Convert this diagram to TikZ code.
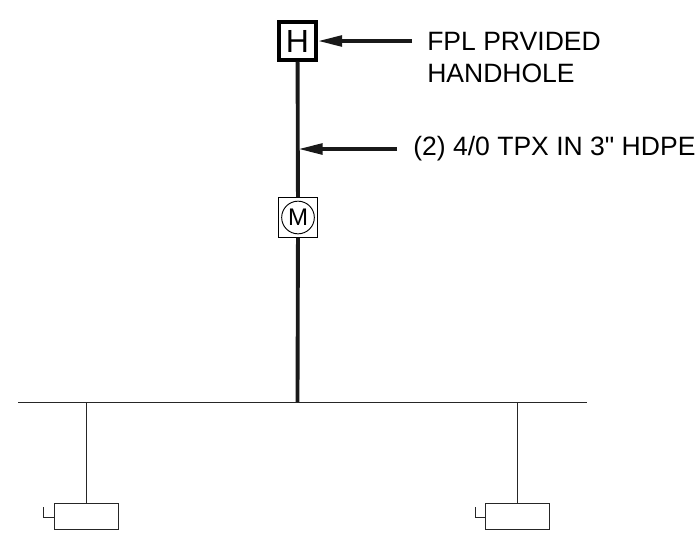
\documentclass[tikz,border=0pt]{standalone}
\usepackage{fontspec}
\setmainfont[Ligatures=TeXOff]{Liberation Sans}
\usetikzlibrary{arrows.meta}
\tikzset{
	thin line/.style={line width=0.75pt,color=black!85},
	feeder/.style={line width=2.9pt,color=black!90},
	leader/.style={line width=2.6pt,color=black!90,-{Triangle[length=18pt,width=8pt]}},
	lbl/.style={font=\fontsize{19.9pt}{22pt}\selectfont,anchor=base west,inner sep=0pt},
	load/.style={draw,thin line,rectangle,minimum width=48pt,minimum height=19.5pt,inner sep=0pt}
}
\begin{document}
\begin{tikzpicture}[x=0.75pt,y=-0.75pt]
			\useasboundingbox (0,0) rectangle (698,537);
			\node[draw,rectangle,line width=2.8pt,minimum size=28pt,inner sep=0pt,font=\fontsize{24pt}{26pt}\selectfont] (hh) at (297.5,41){H};
			\node[draw,rectangle,line width=0.6pt,minimum size=29.5pt,inner sep=0pt] (mbox) at (298,217.5){};
			\node[draw,circle,line width=0.7pt,minimum size=24.5pt,inner sep=0pt,font=\fontsize{18pt}{18pt}\selectfont] (mtr) at (298,217.5){M};
			\coordinate (busl) at (18,402);
			\coordinate (busr) at (587,402);
			\coordinate (tap) at (297.5,402);
			\coordinate (tap1) at (86.5,402);
			\coordinate (tap2) at (517,402);
			\coordinate (mid) at (298.5,149);
			\node[load] (l1) at (86,516){};
			\node[load] (l2) at (517,516){};
			\coordinate (s1) at (43,517);
			\coordinate (s1up) at (43,507);
			\coordinate (s2) at (475,517);
			\coordinate (s2up) at (475,507);
			\coordinate (a1) at (412,41);
			\coordinate (a2) at (397,149);
			\node[lbl] (t1) at (427,50){FPL PRVIDED};
			\node[lbl] (t2) at (427,82.5){HANDHOLE};
			\node[lbl] (t3) at (413,155.5){(2) 4/0 TPX IN 3" HDPE};
			\draw[feeder] (hh) -- (mbox);
			\draw[feeder] (mbox) -- (tap);
			\draw[thin line] (busl) -- (busr);
			\draw[thin line] (tap1) -- (l1.north -| tap1);
			\draw[thin line] (tap2) -- (l2.north -| tap2);
			\draw[thin line] (s1up) -- (s1) -- (l1.west |- s1);
			\draw[thin line] (s2up) -- (s2) -- (l2.west |- s2);
			\draw[leader] (a1) -- (hh.east);
			\draw[leader] (a2) -- (mid);
		\end{tikzpicture}
\end{document}
